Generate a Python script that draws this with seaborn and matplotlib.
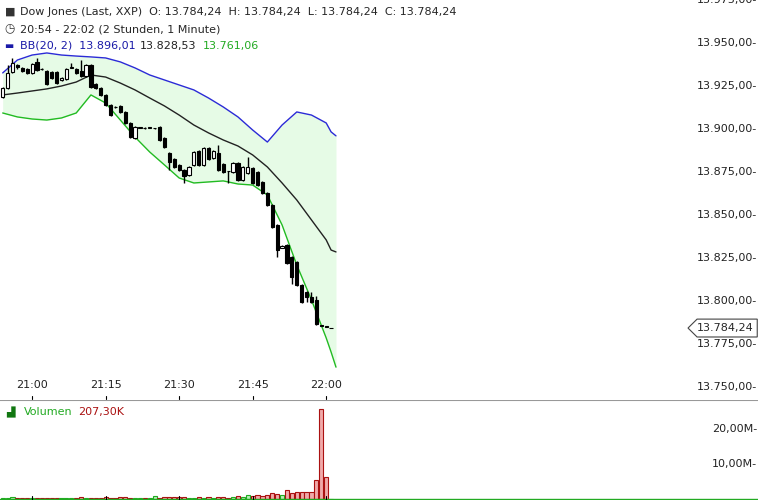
import numpy as np
import matplotlib.pyplot as plt
import matplotlib.transforms as mtrans
import seaborn as sns

sns.set_style('white')
plt.rcParams['font.family'] = ['DejaVu Sans']

# minute index from 20:54
opens = [13918.6, 13923.8, 13933.1, 13937.0, 13935.5, 13934.9, 13932.6, 13939.0, 13934.9, 13933.7,
         13933.1, 13933.1, 13928.5, 13929.1, 13935.5, 13934.9, 13933.7, 13930.8, 13937.2, 13926.2,
         13923.8, 13919.8, 13914.0, 13912.8, 13913.4, 13909.9, 13903.5, 13894.8, 13900.6, 13900.5,
         13900.6, 13900.4, 13901.2, 13894.8, 13886.0, 13882.6, 13879.1, 13876.2, 13873.3, 13879.1,
         13887.2, 13879.1, 13889.0, 13883.1, 13886.0, 13879.7, 13875.6, 13875.0, 13880.3, 13870.3,
         13874.4, 13877.3, 13875.0, 13869.2, 13862.8, 13855.8, 13844.2, 13831.0, 13832.6, 13825.6,
         13822.7, 13809.3, 13805.2, 13802.3, 13800.6, 13785.8, 13785.0, 13784.24]
closes = [13923.8, 13932.6, 13938.4, 13936.0, 13933.7, 13932.6, 13937.8, 13934.3, 13934.6, 13926.2,
          13929.7, 13926.7, 13929.5, 13934.9, 13935.8, 13932.6, 13930.8, 13937.2, 13924.4, 13923.8,
          13919.8, 13914.0, 13908.1, 13912.6, 13909.9, 13903.5, 13895.3, 13901.2, 13900.6, 13900.4,
          13900.6, 13900.5, 13893.6, 13889.5, 13880.8, 13877.9, 13876.2, 13872.7, 13877.9, 13886.6,
          13879.1, 13889.0, 13882.6, 13887.2, 13876.2, 13875.0, 13875.4, 13880.3, 13870.3, 13877.9,
          13877.9, 13868.6, 13867.4, 13862.8, 13855.8, 13843.0, 13829.6, 13832.0, 13822.1, 13814.0,
          13809.3, 13799.4, 13802.3, 13799.4, 13786.6, 13785.5, 13784.9, 13784.24]
highs = [13924.2, 13937.2, 13941.3, 13938.0, 13936.0, 13935.3, 13938.2, 13941.3, 13935.2, 13934.1,
         13933.5, 13933.5, 13930.0, 13935.3, 13938.4, 13935.3, 13940.1, 13937.6, 13937.6, 13926.6,
         13924.2, 13920.2, 13914.4, 13913.2, 13913.8, 13910.3, 13903.9, 13901.6, 13901.0, 13900.9,
         13901.0, 13900.8, 13901.6, 13895.2, 13886.4, 13883.0, 13879.5, 13876.6, 13878.3, 13887.0,
         13887.6, 13889.4, 13889.4, 13887.6, 13890.7, 13880.1, 13875.8, 13880.7, 13880.7, 13878.3,
         13883.7, 13877.7, 13875.4, 13869.6, 13863.2, 13856.2, 13844.6, 13832.5, 13833.0, 13826.0,
         13823.1, 13809.7, 13805.6, 13805.0, 13803.0, 13786.0, 13785.2, 13784.5]
lows = [13918.2, 13923.4, 13932.7, 13935.0, 13933.3, 13932.2, 13932.2, 13933.9, 13934.5, 13925.8,
        13929.3, 13926.3, 13928.0, 13928.7, 13935.3, 13932.2, 13930.2, 13930.4, 13924.0, 13923.4,
        13919.4, 13913.6, 13907.7, 13912.4, 13909.5, 13903.1, 13894.9, 13894.4, 13900.4, 13900.2,
        13900.4, 13900.2, 13893.2, 13889.1, 13876.0, 13877.5, 13875.8, 13868.6, 13872.9, 13878.7,
        13878.7, 13878.7, 13882.2, 13882.7, 13875.8, 13874.6, 13868.6, 13874.6, 13869.9, 13869.9,
        13874.0, 13868.2, 13867.0, 13862.4, 13855.4, 13842.6, 13825.6, 13830.5, 13821.7, 13810.0,
        13808.9, 13799.0, 13799.4, 13799.0, 13786.2, 13785.3, 13784.7, 13784.0]
volumes = [0.3, 0.4, 0.5, 0.3, 0.2, 0.3, 0.2, 0.3, 0.2, 0.2,
           0.3, 0.2, 0.2, 0.3, 0.3, 0.2, 0.5, 0.3, 0.2, 0.3,
           0.3, 0.5, 0.3, 0.2, 0.5, 0.5, 0.3, 0.3, 0.2, 0.2,
           0.3, 0.8, 0.3, 0.5, 0.6, 0.5, 0.7, 0.5, 0.4, 0.4,
           0.5, 0.4, 0.5, 0.4, 0.5, 0.5, 0.4, 0.5, 0.8, 0.6,
           1.2, 0.8, 1.0, 0.8, 1.1, 1.6, 1.4, 1.1, 2.5, 1.6,
           2.0, 2.0, 2.0, 2.0, 5.4, 25.7, 6.3, 0.1]

bb_t = [0, 3, 6, 9, 12, 15, 18, 21, 24, 27, 30, 33, 36, 39, 42, 45, 48, 51, 54, 57, 60, 63, 66, 67, 68]
bb_upper = [13932.6, 13940.1, 13943.0, 13944.2, 13943.0, 13942.4, 13941.9, 13941.3, 13939.0, 13935.5,
            13931.4, 13928.5, 13925.6, 13922.7, 13918.0, 13912.8, 13907.0, 13899.4, 13892.4, 13902.3,
            13909.9, 13908.1, 13903.5, 13898.3, 13896.0]
bb_mid = [13919.8, 13920.9, 13922.1, 13923.3, 13925.0, 13927.3, 13931.4, 13930.2, 13926.7, 13922.7,
          13918.0, 13913.4, 13908.1, 13902.3, 13897.7, 13893.6, 13890.1, 13884.9, 13877.9, 13868.6,
          13858.7, 13847.1, 13835.5, 13829.6, 13828.5]
bb_lower = [13909.3, 13907.0, 13905.8, 13905.2, 13906.4, 13909.3, 13919.8, 13915.1, 13905.2, 13895.3,
            13886.6, 13879.1, 13871.5, 13868.6, 13869.2, 13869.8, 13868.0, 13867.4, 13861.6, 13844.2,
            13820.9, 13800.6, 13778.5, 13770.3, 13761.5]

price_ticks = [13975, 13950, 13925, 13900, 13875, 13850, 13825, 13800, 13775, 13750]
time_ticks = [6, 21, 36, 51, 66]
time_labels = ['21:00', '21:15', '21:30', '21:45', '22:00']
vol_ticks = [10, 20]
last_price = 13784.24
FS = 8


def de(v, nd=2):
    s = f'{v:,.{nd}f}'
    return s.replace(',', 'X').replace('.', ',').replace('X', '.')


fig = plt.figure(figsize=(7.58, 5.0), dpi=100)
ax = fig.add_axes([0, 0.2, 1, 0.8])
axv = fig.add_axes([0, 0, 1, 0.2])
xlim = (-0.55, 154.1)
for a in (ax, axv):
    a.set_xlim(*xlim)
    a.set_xticks([])
    a.set_yticks([])
    for s in a.spines.values():
        s.set_visible(False)
ax.set_ylim(13742.4, 13975)
axv.set_ylim(-0.3, 28.3)

t = np.arange(len(opens))
o = np.array(opens); c = np.array(closes)
up = c >= o

# Bollinger band
ax.fill_between(bb_t, bb_lower, bb_upper, color='#e6fbe6', lw=0, zorder=0)
sns.lineplot(x=bb_t, y=bb_upper, ax=ax, color='#2b2bd6', lw=1)
sns.lineplot(x=bb_t, y=bb_mid, ax=ax, color='#222222', lw=1)
sns.lineplot(x=bb_t, y=bb_lower, ax=ax, color='#22bb22', lw=1)

# candles
ax.vlines(t, lows, highs, color='black', lw=1, zorder=3)
bottoms = np.minimum(o, c)
heights = np.maximum(np.abs(c - o), 0.3)
ax.bar(t[up], heights[up], bottom=bottoms[up], width=0.65, color='white', edgecolor='black', lw=0.8, zorder=4)
ax.bar(t[~up], heights[~up], bottom=bottoms[~up], width=0.65, color='black', edgecolor='black', lw=0.8, zorder=4)

# price labels on right
tr = mtrans.blended_transform_factory(ax.transAxes, ax.transData)
for p in price_ticks:
    ax.text(0.999, p, de(p) + '-', transform=tr, ha='right', va='center', fontsize=FS, color='#222222')
for x, lab in zip(time_ticks, time_labels):
    ax.text(x, 13751.0, lab, ha='center', va='center', fontsize=FS, color='#222222')
    ax.plot([x, x], [13743.0, 13745.0], color='black', lw=0.8)

# last price tag
xa = 688 / 758
tag = plt.Polygon([[xa, last_price], [xa + 0.012, last_price + 5.2], [0.999, last_price + 5.2],
                   [0.999, last_price - 5.2], [xa + 0.012, last_price - 5.2]],
                  closed=True, transform=tr, facecolor='white', edgecolor='#444444', lw=0.8)
ax.add_patch(tag)
ax.text(0.994, last_price, de(last_price), transform=tr, ha='right', va='center', fontsize=FS)

# header
fig.text(0.006, 0.976, '■', fontsize=8, color='#333333', va='center')
fig.text(0.026, 0.976, f'Dow Jones (Last, XXP)  O: {de(last_price)}  H: {de(last_price)}  L: {de(last_price)}  C: {de(last_price)}',
         fontsize=FS, va='center')
fig.text(0.006, 0.942, '◷', fontsize=8.5, color='#333333', va='center')
fig.text(0.026, 0.942, '20:54 - 22:02 (2 Stunden, 1 Minute)', fontsize=FS, va='center')
fig.text(0.006, 0.908, '▬', fontsize=7, color='#1a1aa8', va='center')
fig.text(0.026, 0.908, 'BB(20, 2)  ' + de(bb_upper[-1] + 0.01), fontsize=FS, va='center', color='#1a1aa8')
fig.text(0.185, 0.908, de(bb_mid[-1] + 0.03), fontsize=FS, va='center', color='#222222')
fig.text(0.267, 0.908, de(bb_lower[-1] - 0.44), fontsize=FS, va='center', color='#22aa22')

# volume
vcol = np.where(up, '#b8f0b8', '#f0aaaa')
ecol = np.where(up, '#22aa22', '#aa1111')
axv.bar(t, volumes, width=0.85, color=vcol, edgecolor=ecol, lw=0.8, zorder=3)
axv.axhline(0, color='#22aa22', lw=1, zorder=4)
axv.axhline(28.3, color='#999999', lw=1.5)
trv = mtrans.blended_transform_factory(axv.transAxes, axv.transData)
for v in vol_ticks:
    axv.text(0.999, v, de(v) + 'M-', transform=trv, ha='right', va='center', fontsize=FS, color='#222222')
for x in time_ticks:
    axv.plot([x, x], [-0.3, 0.9], color='black', lw=0.8, zorder=5)
axv.text(0.008, 24.8, '▟', fontsize=8, color='#117711', va='center', transform=trv)
axv.text(0.031, 24.8, 'Volumen', fontsize=FS, color='#22aa22', va='center', transform=trv)
axv.text(0.103, 24.8, '207,30K', fontsize=FS, color='#aa1111', va='center', transform=trv)

fig.savefig('out.png', dpi=100)
